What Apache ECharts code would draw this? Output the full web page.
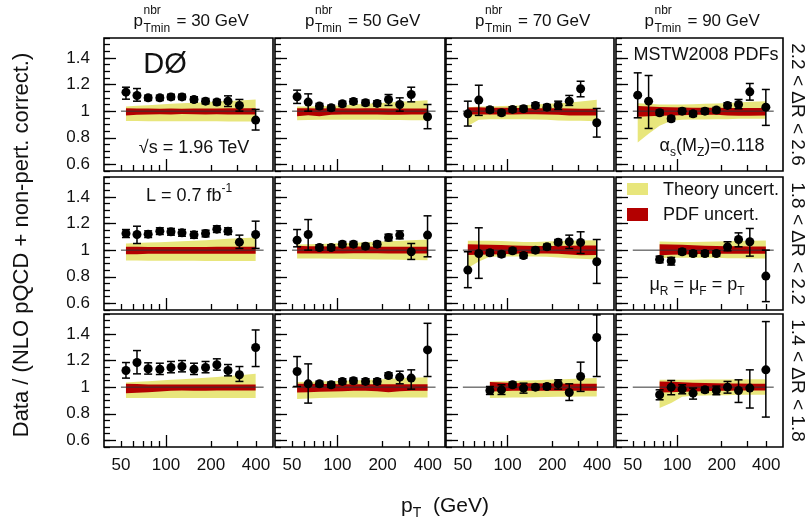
<!DOCTYPE html>
<html><head><meta charset="utf-8">
<script src="https://cdn.jsdelivr.net/npm/echarts@6/dist/echarts.min.js"></script>
<style>html,body{margin:0;padding:0;background:#fff}#c{width:808px;height:524px}</style>
</head><body><div id="c"></div>
<script>
const N = null;
const ptBins = [54, 64, 76, 91, 108, 128, 154, 184, 219, 260, 310, 398];
const xTickMinor = [50, 60, 70, 80, 90, 200, 300, 400];
const xTickMajor = [100];
const xTickLabels = [50, 100, 200, 400];
const yTickMajor = [0.6, 0.8, 1, 1.2, 1.4];
const yTickMinor = [0.55,0.6,0.65,0.7,0.75,0.8,0.85,0.9,0.95,1,1.05,1.1,1.15,1.2,1.25,1.3,1.35,1.4,1.45,1.5,1.55];
const colTitles = ['30', '50', '70', '90'];
const rowTitles = ['2.2 < ΔR < 2.6', '1.8 < ΔR < 2.2', '1.4 < ΔR < 1.8'];

// Row 1: 2.2 < dR < 2.6 (columns: pTmin 30, 50, 70, 90)
const val1 = [
 [1.143,1.118,1.100,1.100,1.107,1.107,1.088,1.075,1.068,1.075,1.043,0.933],
 [1.108,1.068,1.038,1.025,1.055,1.073,1.063,1.058,1.088,1.050,1.125,0.958],
 [0.980,1.083,1.010,0.988,1.013,1.018,1.043,1.030,1.043,1.075,1.168,0.913],
 [1.120,1.075,0.988,0.943,1.000,0.980,1.000,1.008,1.043,1.050,1.145,1.030]];
const up1 = [
 [1.180,1.170,1.120,1.120,1.127,1.127,1.108,1.095,1.088,1.115,1.088,1.013],
 [1.158,1.130,1.058,1.045,1.075,1.093,1.083,1.078,1.125,1.100,1.180,1.050],
 [1.075,1.195,1.030,1.008,1.033,1.038,1.063,1.050,1.075,1.118,1.225,1.020],
 [1.288,1.268,1.008,0.963,1.020,1.000,1.020,1.028,1.063,1.088,1.208,1.163]];
const dn1 = [
 [1.090,1.075,1.080,1.080,1.087,1.087,1.068,1.055,1.048,1.035,1.000,0.858],
 [1.058,1.000,1.018,1.005,1.035,1.053,1.043,1.038,1.043,1.000,1.070,0.868],
 [0.888,0.968,0.990,0.968,0.993,0.998,1.023,1.010,1.013,1.043,1.108,0.805],
 [0.950,0.870,0.968,0.923,0.980,0.960,0.980,0.988,1.023,1.018,1.083,0.893]];
const thHi1 = [
 [1.035,1.040,1.045,1.050,1.055,1.060,1.063,1.067,1.072,1.076,1.080,1.088],
 [1.035,1.035,1.037,1.040,1.045,1.050,1.055,1.060,1.065,1.070,1.075,1.082],
 [1.030,1.035,1.035,1.038,1.040,1.045,1.050,1.055,1.060,1.065,1.072,1.085],
 [1.060,1.055,1.050,1.050,1.050,1.052,1.055,1.058,1.062,1.065,1.070,1.075]];
const thLo1 = [
 [0.926,0.926,0.925,0.925,0.925,0.925,0.925,0.924,0.924,0.923,0.923,0.922],
 [0.932,0.934,0.935,0.935,0.935,0.935,0.935,0.935,0.934,0.933,0.932,0.932],
 [0.888,0.935,0.940,0.940,0.940,0.940,0.938,0.935,0.930,0.928,0.927,0.925],
 [0.765,0.830,0.890,0.928,0.935,0.937,0.938,0.940,0.940,0.942,0.943,0.943]];
const pdfHi1 = [
 [1.022,1.020,1.020,1.018,1.020,1.018,1.020,1.020,1.020,1.022,1.022,1.022],
 [1.022,1.022,1.020,1.022,1.022,1.020,1.022,1.022,1.020,1.020,1.020,1.020],
 [1.028,1.030,1.025,1.025,1.025,1.022,1.022,1.022,1.022,1.020,1.018,1.018],
 [1.038,1.035,1.032,1.030,1.028,1.026,1.025,1.025,1.024,1.024,1.024,1.024]];
const pdfLo1 = [
 [0.968,0.972,0.975,0.977,0.975,0.978,0.976,0.975,0.976,0.975,0.975,0.974],
 [0.962,0.970,0.962,0.972,0.974,0.975,0.975,0.975,0.973,0.972,0.975,0.975],
 [0.975,0.975,0.975,0.975,0.975,0.976,0.976,0.975,0.972,0.968,0.968,0.968],
 [0.958,0.962,0.965,0.968,0.970,0.972,0.972,0.972,0.968,0.965,0.965,0.968]];

// Row 2: 1.8 < dR < 2.2
const val2 = [
 [1.125,1.118,1.120,1.143,1.138,1.130,1.115,1.125,1.158,1.143,1.060,1.118],
 [1.075,1.118,1.020,1.020,1.045,1.045,1.030,1.045,1.095,1.113,0.988,1.113],
 [0.850,0.975,0.980,0.970,0.995,0.960,1.000,1.025,1.060,1.063,1.058,0.913],
 [N,N,0.930,0.918,0.988,0.975,0.975,0.975,1.025,1.080,1.063,0.805]];
const up2 = [
 [1.155,1.180,1.145,1.168,1.163,1.155,1.140,1.150,1.183,1.168,1.113,1.218],
 [1.155,1.230,1.040,1.040,1.065,1.065,1.050,1.065,1.120,1.145,1.050,1.258],
 [0.988,1.168,1.000,0.990,1.015,0.980,1.020,1.045,1.080,1.113,1.138,1.080],
 [N,N,0.955,0.945,1.008,0.995,0.995,0.995,1.063,1.130,1.163,1.000]];
const dn2 = [
 [1.095,1.050,1.095,1.118,1.113,1.105,1.090,1.100,1.133,1.118,1.013,1.013],
 [1.025,1.000,1.000,1.000,1.025,1.025,1.010,1.025,1.070,1.085,0.930,0.950],
 [0.718,0.788,0.960,0.950,0.975,0.940,0.980,1.005,1.040,1.013,0.975,0.750],
 [N,N,0.905,0.888,0.968,0.955,0.955,0.955,0.995,1.025,0.955,0.613]];
const thHi2 = [
 [1.050,1.053,1.057,1.060,1.063,1.067,1.070,1.075,1.080,1.085,1.090,1.095],
 [1.043,1.045,1.047,1.050,1.053,1.056,1.060,1.063,1.067,1.070,1.075,1.080],
 [1.070,1.070,1.070,1.068,1.065,1.062,1.062,1.065,1.068,1.070,1.072,1.075],
 [N,N,1.065,1.063,1.062,1.062,1.063,1.065,1.066,1.068,1.070,1.072]];
const thLo2 = [
 [0.922,0.922,0.921,0.921,0.920,0.920,0.920,0.919,0.919,0.918,0.918,0.918],
 [0.938,0.938,0.937,0.936,0.935,0.934,0.932,0.930,0.930,0.928,0.926,0.925],
 [0.865,0.915,0.950,0.952,0.953,0.953,0.952,0.950,0.945,0.940,0.935,0.930],
 [N,N,0.940,0.942,0.943,0.943,0.942,0.942,0.940,0.940,0.938,0.938]];
const pdfHi2 = [
 [1.025,1.025,1.024,1.024,1.024,1.024,1.024,1.024,1.025,1.025,1.025,1.025],
 [1.033,1.030,1.030,1.028,1.028,1.027,1.027,1.026,1.025,1.025,1.025,1.025],
 [1.045,1.042,1.040,1.038,1.035,1.033,1.032,1.032,1.032,1.033,1.035,1.035],
 [N,N,1.045,1.042,1.040,1.036,1.034,1.032,1.030,1.030,1.028,1.028]];
const pdfLo2 = [
 [0.970,0.970,0.972,0.972,0.973,0.973,0.972,0.972,0.972,0.972,0.972,0.972],
 [0.975,0.975,0.975,0.975,0.975,0.976,0.976,0.976,0.975,0.975,0.975,0.975],
 [0.963,0.965,0.968,0.970,0.972,0.975,0.975,0.975,0.972,0.968,0.962,0.963],
 [N,N,0.962,0.965,0.967,0.970,0.972,0.973,0.973,0.972,0.972,0.972]];

// Row 3: 1.4 < dR < 1.8
const val3 = [
 [1.125,1.185,1.138,1.135,1.148,1.155,1.135,1.148,1.168,1.125,1.093,1.298],
 [1.118,1.025,1.025,1.018,1.043,1.048,1.043,1.043,1.088,1.075,1.068,1.280],
 [N,N,0.975,0.980,1.018,0.993,1.000,1.005,1.025,0.960,1.080,1.373],
 [N,N,0.943,1.000,0.985,0.955,0.980,0.975,1.000,0.975,0.993,1.130]];
const up3 = [
 [1.185,1.275,1.183,1.180,1.193,1.200,1.180,1.193,1.213,1.170,1.155,1.430],
 [1.230,1.175,1.045,1.038,1.063,1.068,1.063,1.063,1.108,1.120,1.130,1.480],
 [N,N,1.005,1.018,1.038,1.030,1.020,1.025,1.055,1.025,1.188,1.543],
 [N,N,0.980,1.050,1.018,0.993,1.000,1.008,1.043,1.055,1.130,1.493]];
const dn3 = [
 [1.068,1.100,1.098,1.095,1.108,1.115,1.095,1.108,1.128,1.085,1.043,1.155],
 [1.005,0.880,1.005,0.998,1.023,1.028,1.023,1.023,1.068,1.025,0.985,1.080],
 [N,N,0.945,0.945,0.998,0.955,0.980,0.985,0.985,0.900,0.968,1.080],
 [N,N,0.905,0.943,0.950,0.910,0.960,0.943,0.955,0.885,0.843,0.775]];
const thHi3 = [
 [1.035,1.040,1.045,1.050,1.055,1.060,1.065,1.070,1.077,1.083,1.090,1.100],
 [1.038,1.040,1.042,1.045,1.048,1.050,1.053,1.057,1.062,1.067,1.070,1.075],
 [N,N,1.043,1.045,1.047,1.050,1.052,1.055,1.058,1.062,1.065,1.068],
 [N,N,1.055,1.055,1.056,1.056,1.057,1.057,1.058,1.058,1.060,1.060]];
const thLo3 = [
 [0.918,0.918,0.918,0.918,0.918,0.918,0.918,0.918,0.918,0.918,0.918,0.918],
 [0.910,0.915,0.918,0.920,0.922,0.922,0.922,0.923,0.923,0.923,0.923,0.923],
 [N,N,0.918,0.920,0.922,0.923,0.925,0.926,0.927,0.928,0.930,0.930],
 [N,N,0.843,0.880,0.928,0.935,0.938,0.940,0.940,0.942,0.943,0.943]];
const pdfHi3 = [
 [1.025,1.023,1.020,1.020,1.020,1.020,1.020,1.020,1.020,1.020,1.020,1.020],
 [1.025,1.025,1.024,1.023,1.022,1.022,1.022,1.022,1.022,1.022,1.022,1.022],
 [N,N,1.038,1.035,1.032,1.030,1.030,1.028,1.028,1.026,1.026,1.025],
 [N,N,1.043,1.040,1.037,1.034,1.032,1.030,1.028,1.027,1.026,1.025]];
const pdfLo3 = [
 [0.955,0.958,0.962,0.968,0.972,0.975,0.972,0.972,0.975,0.975,0.975,0.975],
 [0.960,0.962,0.965,0.968,0.970,0.972,0.972,0.970,0.962,0.970,0.972,0.972],
 [N,N,0.968,0.970,0.972,0.972,0.973,0.973,0.973,0.973,0.973,0.973],
 [N,N,0.960,0.962,0.965,0.968,0.970,0.972,0.973,0.974,0.975,0.975]];

const unitLine = [[50, 1], [450, 1]];

const rows = [
  {val: val1, up: up1, dn: dn1, thHi: thHi1, thLo: thLo1, pdfHi: pdfHi1, pdfLo: pdfLo1},
  {val: val2, up: up2, dn: dn2, thHi: thHi2, thLo: thLo2, pdfHi: pdfHi2, pdfLo: pdfLo2},
  {val: val3, up: up3, dn: dn3, thHi: thHi3, thLo: thLo3, pdfHi: pdfHi3, pdfLo: pdfLo3}
];

const FF = '"Liberation Sans", Arial, Helvetica, sans-serif';
const colLeft = [104, 275, 446, 616];
const colWidth = [169, 170, 168, 167];
const rowTop = [38, 177, 314];
const rowH = 133;
const YELLOW = '#e8e67c';
const RED = '#b30000';

const grids = [], xAxes = [], yAxes = [], series = [];

function bandSeries(p, lo, hi, color, z) {
  const xs = [], los = [], his = [];
  ptBins.forEach((x, i) => { if (lo[i] != null) { xs.push(x); los.push(lo[i]); his.push(hi[i]); } });
  return {
    type: 'custom', xAxisIndex: 2 * p, yAxisIndex: 2 * p, silent: true, clip: true, z: z,
    data: [[xs[0], los[0]]],
    renderItem: function (params, api) {
      const pts = [];
      for (let i = 0; i < xs.length; i++) pts.push(api.coord([xs[i], his[i]]));
      for (let i = xs.length - 1; i >= 0; i--) pts.push(api.coord([xs[i], los[i]]));
      return {type: 'polygon', shape: {points: pts}, style: {fill: color}};
    }
  };
}

for (let r = 0; r < 3; r++) {
  for (let c = 0; c < 4; c++) {
    const p = r * 4 + c;
    const R = rows[r];
    grids.push({left: colLeft[c], top: rowTop[r], width: colWidth[c], height: rowH,
      show: true, borderColor: '#000', borderWidth: 1.6, backgroundColor: 'transparent', containLabel: false});
    const xBase = {gridIndex: p, type: 'log', logBase: 10, min: 38.5, max: 520, position: 'bottom',
      axisLine: {show: false}, splitLine: {show: false}, minorTick: {show: false}};
    xAxes.push(Object.assign({}, xBase, {
      axisTick: {show: true, inside: true, length: 6, customValues: xTickMinor, lineStyle: {color: '#000', width: 1.3}},
      axisLabel: {show: r === 2, customValues: xTickLabels, fontSize: 17, color: '#111', fontFamily: FF, margin: 10}
    }));
    xAxes.push(Object.assign({}, xBase, {
      axisTick: {show: true, inside: true, length: 12, customValues: xTickMajor, lineStyle: {color: '#000', width: 1.3}},
      axisLabel: {show: false}
    }));
    const yBase = {gridIndex: p, type: 'value', min: 0.55, max: 1.55, position: 'left',
      axisLine: {show: false}, splitLine: {show: false}};
    yAxes.push(Object.assign({}, yBase, {
      axisTick: {show: true, inside: true, length: 12, customValues: yTickMajor, lineStyle: {color: '#000', width: 1.3}},
      axisLabel: {show: c === 0, customValues: yTickMajor, fontSize: 17, color: '#111', fontFamily: FF, margin: 14}
    }));
    yAxes.push(Object.assign({}, yBase, {
      axisTick: {show: true, inside: true, length: 6, customValues: yTickMinor, lineStyle: {color: '#000', width: 1.3}},
      axisLabel: {show: false}
    }));

    series.push(bandSeries(p, R.thLo[c], R.thHi[c], YELLOW, 1));
    series.push(bandSeries(p, R.pdfLo[c], R.pdfHi[c], RED, 2));
    series.push({type: 'line', xAxisIndex: 2 * p, yAxisIndex: 2 * p, data: unitLine, symbol: 'none',
      silent: true, z: 3, lineStyle: {color: '#333', width: 1}});

    const pts = [], errs = [];
    ptBins.forEach((x, i) => {
      const v = R.val[c][i];
      if (v == null) return;
      pts.push([x, v]);
      errs.push([x, v, R.dn[c][i], R.up[c][i]]);
    });
    series.push({
      type: 'custom', xAxisIndex: 2 * p, yAxisIndex: 2 * p, silent: true, z: 4, clip: false,
      data: errs,
      renderItem: function (params, api) {
        const x = api.value(0);
        const top = api.coord([x, api.value(3)]);
        const bot = api.coord([x, api.value(2)]);
        const cw = 4;
        const st = {stroke: '#000', lineWidth: 1.5};
        return {type: 'group', children: [
          {type: 'line', shape: {x1: top[0], y1: top[1], x2: bot[0], y2: bot[1]}, style: st},
          {type: 'line', shape: {x1: top[0] - cw, y1: top[1], x2: top[0] + cw, y2: top[1]}, style: st},
          {type: 'line', shape: {x1: bot[0] - cw, y1: bot[1], x2: bot[0] + cw, y2: bot[1]}, style: st}
        ]};
      }
    });
    series.push({type: 'scatter', xAxisIndex: 2 * p, yAxisIndex: 2 * p, data: pts, symbol: 'circle',
      symbolSize: 9, silent: true, z: 5, itemStyle: {color: '#000', opacity: 1}});
  }
}

function rich(s) {
  const ss = Math.round(s * 0.68);
  return {
    m: {fontSize: s, fontFamily: FF, fill: '#111', lineHeight: s + 8, verticalAlign: 'middle'},
    sub: {fontSize: ss, fontFamily: FF, fill: '#111', lineHeight: ss, verticalAlign: 'bottom'},
    sup: {fontSize: ss, fontFamily: FF, fill: '#111', lineHeight: ss, verticalAlign: 'top'}
  };
}
function T(x, y, text, size, o) {
  o = o || {};
  const al = o.align || 'center';
  const st = {text: text, x: 0, y: 0, fontSize: size, fontFamily: FF, fill: '#111',
    align: al, verticalAlign: 'middle', textAlign: al, textVerticalAlign: 'middle'};
  if (o.rich) st.rich = rich(size);
  return {type: 'text', x: x, y: y, rotation: o.rot || 0, z: 100, silent: true, style: st};
}

const graphics = [];
for (let c = 0; c < 4; c++) {
  const cx = colLeft[c] + colWidth[c] / 2;
  graphics.push(T(cx - 55, 21, 'p', 17, {align: 'left'}));
  graphics.push(T(cx - 45, 11, 'nbr', 12, {align: 'left'}));
  graphics.push(T(cx - 45, 29, 'Tmin', 12, {align: 'left'}));
  graphics.push(T(cx - 12, 21, '= ' + colTitles[c] + ' GeV', 17, {align: 'left'}));
}
for (let r = 0; r < 3; r++) {
  graphics.push(T(797, rowTop[r] + rowH / 2, rowTitles[r], 19, {rot: -Math.PI / 2}));
}
graphics.push(T(22, 245, 'Data / (NLO pQCD + non-pert. correct.)', 22, {rot: Math.PI / 2}));
graphics.push(T(445, 506, '{m|p}{sub|T}{m|  (GeV)}', 21, {rich: true}));
graphics.push(T(165, 65, 'DØ', 29));
graphics.push(T(194, 148, '√s = 1.96 TeV', 18));
graphics.push(T(189, 196, '{m|L = 0.7 fb}{sup|-1}', 18, {rich: true}));
graphics.push(T(706, 55, 'MSTW2008 PDFs', 18));
graphics.push(T(712, 146, '{m|α}{sub|s}{m|(M}{sub|Z}{m|)=0.118}', 18, {rich: true}));
graphics.push({type: 'rect', z: 100, silent: true, shape: {x: 627, y: 183, width: 21, height: 12}, style: {fill: YELLOW}});
graphics.push({type: 'rect', z: 100, silent: true, shape: {x: 627, y: 208, width: 21, height: 13}, style: {fill: RED}});
graphics.push(T(663, 190, 'Theory uncert.', 18, {align: 'left'}));
graphics.push(T(663, 215, 'PDF uncert.', 18, {align: 'left'}));
graphics.push(T(697, 285, '{m|μ}{sub|R}{m| = μ}{sub|F}{m| = p}{sub|T}', 18, {rich: true}));

const chart = echarts.init(document.getElementById('c'), null, {renderer: 'canvas'});
chart.setOption({
  animation: false,
  backgroundColor: '#fff',
  grid: grids, xAxis: xAxes, yAxis: yAxes, series: series,
  graphic: {elements: graphics}
});
</script></body></html>
